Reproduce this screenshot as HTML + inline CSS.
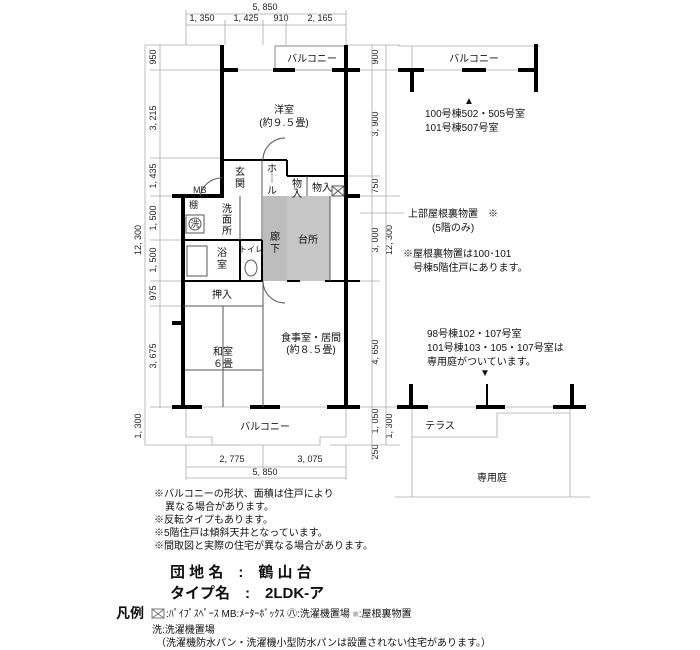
<!DOCTYPE html>
<html><head><meta charset="utf-8"><style>
body{margin:0;background:#fff;}
svg{display:block;font-family:"Liberation Sans","Noto Sans CJK JP",sans-serif;}
.t{font-size:10px;fill:#111;}
.d{font-size:9px;fill:#222;}
.w{stroke:#000;stroke-width:4;fill:none;}
.l{stroke:#555;stroke-width:1;fill:none;}
.g{stroke:#aaa;stroke-width:0.8;fill:none;}
</style></head><body>
<svg width="700" height="650" viewBox="0 0 700 650">
<text class="d" x="265" y="10" text-anchor="middle">5, 850</text>
<line class="g" x1="186" y1="14" x2="346" y2="14"/>
<text class="d" x="202" y="21" text-anchor="middle">1, 350</text>
<text class="d" x="246" y="21" text-anchor="middle">1, 425</text>
<text class="d" x="281" y="21" text-anchor="middle">910</text>
<text class="d" x="320" y="21" text-anchor="middle">2, 165</text>
<line class="g" x1="186" y1="25" x2="346" y2="25"/>
<g class="g"><line x1="186" y1="10" x2="186" y2="45"/><line x1="225" y1="20" x2="225" y2="45"/><line x1="263" y1="20" x2="263" y2="45"/><line x1="286" y1="20" x2="286" y2="45"/><line x1="346" y1="10" x2="346" y2="45"/></g>
<line class="g" x1="160" y1="45" x2="160" y2="408"/>
<line class="g" x1="145" y1="45" x2="145" y2="445"/>
<g class="g"><line x1="145" y1="45" x2="220" y2="45"/><line x1="150" y1="70" x2="222" y2="70"/><line x1="150" y1="158" x2="222" y2="158"/><line x1="150" y1="196" x2="183" y2="196"/><line x1="150" y1="240" x2="183" y2="240"/><line x1="150" y1="281" x2="183" y2="281"/><line x1="150" y1="306" x2="183" y2="306"/><line x1="150" y1="407" x2="183" y2="407"/><line x1="145" y1="445" x2="240" y2="445"/></g>
<g class="d" text-anchor="middle">
<text transform="translate(156,57) rotate(-90)">950</text>
<text transform="translate(156,118) rotate(-90)">3, 215</text>
<text transform="translate(156,176) rotate(-90)">1, 435</text>
<text transform="translate(156,218) rotate(-90)">1, 500</text>
<text transform="translate(141,240) rotate(-90)">12, 300</text>
<text transform="translate(156,260) rotate(-90)">1, 500</text>
<text transform="translate(156,293) rotate(-90)">975</text>
<text transform="translate(156,356) rotate(-90)">3, 675</text>
<text transform="translate(141,426) rotate(-90)">1, 300</text>
<text transform="translate(378,57) rotate(-90)">900</text>
<text transform="translate(378,124) rotate(-90)">3, 900</text>
<text transform="translate(378,186) rotate(-90)">750</text>
<text transform="translate(378,240) rotate(-90)">3, 000</text>
<text transform="translate(392,240) rotate(-90)">12, 300</text>
<text transform="translate(378,352) rotate(-90)">4, 650</text>
<text transform="translate(378,421) rotate(-90)">1, 050</text>
<text transform="translate(392,426) rotate(-90)">1, 300</text>
<text transform="translate(378,452) rotate(-90)">250</text>
</g>
<line class="g" x1="372" y1="45" x2="372" y2="460"/>
<line class="g" x1="386" y1="45" x2="386" y2="445"/>
<g class="g"><line x1="346" y1="45" x2="400" y2="45"/><line x1="358" y1="70" x2="400" y2="70"/><line x1="346" y1="176" x2="380" y2="176"/><line x1="346" y1="196" x2="400" y2="196"/><line x1="358" y1="281" x2="380" y2="281"/><line x1="358" y1="407" x2="400" y2="407"/><line x1="330" y1="445" x2="400" y2="445"/></g>
<text class="d" x="232" y="462" text-anchor="middle">2, 775</text>
<text class="d" x="310" y="462" text-anchor="middle">3, 075</text>
<line class="g" x1="186" y1="467" x2="346" y2="467"/>
<text class="d" x="265" y="475" text-anchor="middle">5, 850</text>
<line class="g" x1="186" y1="478" x2="346" y2="478"/>
<g class="g"><line x1="186" y1="445" x2="186" y2="480"/><line x1="263" y1="445" x2="263" y2="470"/><line x1="346" y1="445" x2="346" y2="480"/></g>
<rect x="263" y="196" width="24" height="85" fill="#bdbdbd"/>
<rect x="287" y="196" width="43" height="85" fill="#c6c6c6"/>
<rect x="275" y="46" width="71" height="24" fill="none" stroke="#888"/>
<text class="t" x="312" y="62" text-anchor="middle">バルコニー</text>
<g class="w">
<line x1="222" y1="45" x2="222" y2="198"/>
<line x1="220" y1="70" x2="238" y2="70"/><line x1="273" y1="70" x2="295" y2="70"/><line x1="332" y1="70" x2="360" y2="70"/>
<line x1="346" y1="45" x2="346" y2="409"/>
<line x1="172" y1="196" x2="224" y2="196"/>
<line x1="183" y1="196" x2="183" y2="409"/>
<line x1="172" y1="323" x2="183" y2="323"/>
<line x1="172" y1="407" x2="202" y2="407"/><line x1="250" y1="407" x2="280" y2="407"/><line x1="327" y1="407" x2="360" y2="407"/>
<line x1="346" y1="196" x2="360" y2="196"/>
</g>
<g class="g" stroke-width="2"><line x1="238" y1="70" x2="273" y2="70"/><line x1="295" y1="70" x2="332" y2="70"/><line x1="202" y1="407" x2="250" y2="407"/><line x1="280" y1="407" x2="327" y2="407"/></g>
<g stroke="#000" stroke-width="2" fill="none">
<line x1="183" y1="281" x2="263" y2="281"/><line x1="287" y1="281" x2="300" y2="281"/><line x1="325" y1="281" x2="360" y2="281"/>
<line x1="222" y1="160" x2="287" y2="160"/>
<line x1="287" y1="160" x2="287" y2="176"/><line x1="287" y1="176" x2="346" y2="176"/>
<line x1="183" y1="240" x2="240" y2="240"/>
<line x1="240" y1="240" x2="240" y2="281"/><line x1="262" y1="240" x2="262" y2="281"/>
<line x1="240" y1="240" x2="262" y2="240"/>
</g>
<g class="l">
<line x1="262" y1="160" x2="262" y2="196"/><line x1="262" y1="196" x2="262" y2="240"/>
<line x1="240" y1="196" x2="240" y2="240"/>
<line x1="183" y1="306" x2="263" y2="306"/><line x1="263" y1="281" x2="263" y2="407"/>
<line x1="307" y1="176" x2="307" y2="196"/><line x1="330" y1="196" x2="330" y2="281"/>
<rect x="332" y="186" width="12" height="10"/><line x1="332" y1="186" x2="344" y2="196"/><line x1="344" y1="186" x2="332" y2="196"/>
<path d="M222 178 A22 22 0 0 0 200 196"/><path d="M263 160 A22 22 0 0 1 285 138"/>
<path d="M263 281 A22 22 0 0 0 285 303"/>
<rect x="187" y="246" width="20" height="30"/><ellipse cx="251" cy="268" rx="6" ry="8"/>
<rect x="186" y="215" width="18" height="18"/><circle cx="195" cy="224" r="6"/>
<line x1="185" y1="370" x2="262" y2="370"/><line x1="223" y1="306" x2="223" y2="407"/>
</g>
<text class="d" x="193" y="193" font-size="7">MB</text>
<text class="d" x="189" y="208" font-size="8">棚</text>
<text class="d" x="195" y="227" font-size="7" text-anchor="middle">洗</text>
<g class="t" text-anchor="middle">
<text x="284" y="113">洋室</text><text x="284" y="126">(約９.５畳)</text>
<text x="240" y="175">玄</text><text x="240" y="187">関</text>
<text x="272" y="172">ホ</text><text x="272" y="182">｜</text><text x="272" y="194">ル</text>
<text x="297" y="187">物</text><text x="297" y="197">入</text>
<text x="322" y="191">物入</text>
<text x="227" y="212">洗</text><text x="227" y="223">面</text><text x="227" y="234">所</text>
<text x="222" y="256">浴</text><text x="222" y="268">室</text>
<text x="251" y="252" font-size="8">トイレ</text>
<text x="275" y="240">廊</text><text x="275" y="252">下</text>
<text x="308" y="243">台所</text>
<text x="222" y="298">押入</text>
<text x="311" y="341">食事室・居間</text><text x="311" y="353">(約８.５畳)</text>
<text x="223" y="355">和室</text><text x="223" y="367">６畳</text>
<text x="265" y="430">バルコニー</text>
</g>
<path class="g" d="M186 409 L186 437 L212 437 L212 445 L320 445 L320 437 L346 437 L346 409" stroke="#888"/>
<path class="g" d="M398 46 L540 46 M412 46 L412 70" stroke="#888"/>
<g class="w"><line x1="398" y1="70" x2="424" y2="70"/><line x1="462" y1="70" x2="486" y2="70"/><line x1="518" y1="70" x2="538" y2="70"/><line x1="412" y1="70" x2="412" y2="92"/><line x1="536" y1="44" x2="536" y2="92"/></g>
<g class="g" stroke-width="2"><line x1="424" y1="70" x2="462" y2="70"/><line x1="486" y1="70" x2="518" y2="70"/></g>
<text class="t" x="474" y="62" text-anchor="middle">バルコニー</text>
<text class="t" x="469" y="104" text-anchor="middle" font-size="9">▲</text>
<text class="t" x="425" y="117">100号棟502・505号室</text>
<text class="t" x="425" y="131">101号棟507号室</text>
<line class="g" x1="360" y1="213" x2="404" y2="213"/>
<text class="t" x="408" y="217">上部屋根裏物置　※</text>
<text class="t" x="432" y="231">(5階のみ)</text>
<text class="t" x="403" y="257">※屋根裏物置は100･101</text>
<text class="t" x="413" y="271">号棟5階住戸にあります。</text>
<text class="t" x="427" y="337">98号棟102・107号室</text>
<text class="t" x="427" y="351">101号棟103・105・107号室は</text>
<text class="t" x="427" y="365">専用庭がついています。</text>
<text class="t" x="485" y="376" text-anchor="middle" font-size="9">▼</text>
<g class="w"><line x1="397" y1="407" x2="428" y2="407"/><line x1="476" y1="407" x2="505" y2="407"/><line x1="553" y1="407" x2="586" y2="407"/><line x1="411" y1="384" x2="411" y2="407"/><line x1="572" y1="384" x2="572" y2="407"/></g>
<line x1="487" y1="384" x2="487" y2="407" stroke="#000" stroke-width="2"/>
<g class="g" stroke-width="2"><line x1="428" y1="407" x2="476" y2="407"/><line x1="505" y1="407" x2="553" y2="407"/></g>
<path class="g" stroke="#888" d="M412 409 L412 497 M570 409 L570 497 M412 437 L497 437 L497 413 L570 413 M395 497 L590 497"/>
<text class="t" x="440" y="429" text-anchor="middle">テラス</text>
<text class="t" x="492" y="481" text-anchor="middle">専用庭</text>
<g class="t">
<text x="154" y="497">※バルコニーの形状、面積は住戸により</text>
<text x="165" y="510">異なる場合があります。</text>
<text x="154" y="523">※反転タイプもあります。</text>
<text x="154" y="536">※5階住戸は傾斜天井となっています。</text>
<text x="154" y="549">※間取図と実際の住宅が異なる場合があります。</text>
</g>
<text x="170" y="577" font-size="15" font-weight="bold" fill="#111">団 地 名　:　鶴 山 台</text>
<text x="170" y="598" font-size="15" font-weight="bold" fill="#111">タイプ名　:　2LDK-ア</text>
<text x="116" y="618" font-size="14" font-weight="bold" fill="#111">凡例</text>
<rect x="152" y="609" width="12" height="9" fill="none" stroke="#777"/>
<path d="M152 609 L158 614 L164 609 M152 618 L158 614 L164 618" stroke="#777" fill="none"/>
<text class="t" x="166" y="617">:ﾊﾟｲﾌﾟｽﾍﾟｰｽ MB:ﾒｰﾀｰﾎﾞｯｸｽ ㊇:洗濯機置場 <tspan fill="#bbb">■</tspan>:屋根裏物置</text>
<text class="t" x="152" y="633">洗:洗濯機置場</text>
<text class="t" x="156" y="646">（洗濯機防水パン・洗濯機小型防水パンは設置されない住宅があります。）</text>
</svg>
</body></html>
